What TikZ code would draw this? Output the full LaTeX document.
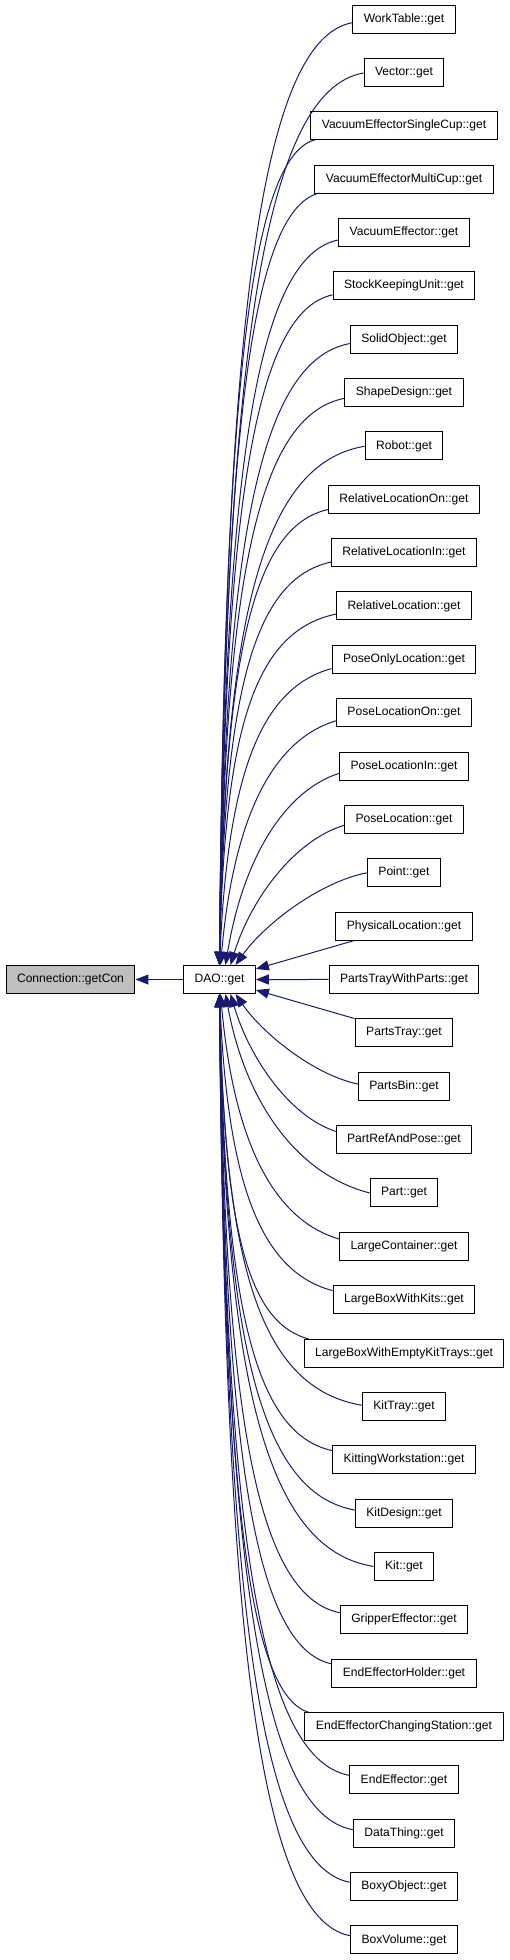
\documentclass[tikz,border=0pt]{standalone}
\usepackage{fontspec}
\setmainfont{Liberation Sans}
\usetikzlibrary{arrows.meta}
\definecolor{edgeblue}{RGB}{25,25,112}
\definecolor{curgray}{RGB}{191,191,191}
\begin{document}
\begin{tikzpicture}[x=1pt,y=-1pt,
  fn/.style={draw=black,line width=1pt,fill=white,minimum height=28pt,inner xsep=11pt,inner ysep=2pt,font=\fontsize{12.1}{14}\selectfont},
  edge/.style={draw=edgeblue,line width=1pt,-{Triangle[length=13pt,width=10pt]}}]
\useasboundingbox (0,0) rectangle (509,1960);
\node[fn,fill=curgray] (con) at (70.5,979.5) {Connection::getCon};
\node[fn] (dao) at (219.5,979.5) {DAO::get};
\foreach \t [count=\i from 0] in {WorkTable::get,Vector::get,VacuumEffectorSingleCup::get,VacuumEffectorMultiCup::get,VacuumEffector::get,StockKeepingUnit::get,SolidObject::get,ShapeDesign::get,Robot::get,RelativeLocationOn::get,RelativeLocationIn::get,RelativeLocation::get,PoseOnlyLocation::get,PoseLocationOn::get,PoseLocationIn::get,PoseLocation::get,Point::get,PhysicalLocation::get,PartsTrayWithParts::get,PartsTray::get,PartsBin::get,PartRefAndPose::get,Part::get,LargeContainer::get,LargeBoxWithKits::get,LargeBoxWithEmptyKitTrays::get,KitTray::get,KittingWorkstation::get,KitDesign::get,Kit::get,GripperEffector::get,EndEffectorHolder::get,EndEffectorChangingStation::get,EndEffector::get,DataThing::get,BoxyObject::get,BoxVolume::get}{
  \pgfmathsetmacro{\yc}{19+53.36*\i}
  \node[fn] (n\i) at (404,\yc) {\t};
}
% upper edges
\foreach \i in {0,...,16}{
  \path (n\i.west); \pgfgetlastxy{\Lx}{\Ly}
  \pgfmathsetmacro{\L}{\Lx}
  \pgfmathsetmacro{\yc}{0-(\Ly)}
  \pgfmathsetmacro{\raw}{(366-\L)*0.27}
  \pgfmathsetmacro{\off}{min(14,max(0,\raw))}
  \pgfmathsetmacro{\sxs}{(\raw>13.5?5:0)}
  \pgfmathsetmacro{\sx}{\L+\sxs}
  \pgfmathsetmacro{\sy}{\yc+\off}
  \pgfmathsetmacro{\e}{max(0,16-5*(16-\i))}
  \pgfmathsetmacro{\ex}{219.5+\e}
  \pgfmathsetmacro{\ey}{966}
  \pgfmathsetmacro{\dx}{\sx-\ex}
  \pgfmathsetmacro{\dy}{\ey-\sy}
  \pgfmathsetmacro{\w}{min(1,max(0,(\dy-90)/250))}
  \pgfmathsetmacro{\ax}{\sx-(0.36+0.34*\w)*\dx}
  \pgfmathsetmacro{\ay}{\sy+0.1*\dy*(1-\w)+17*\w}
  \pgfmathsetmacro{\bx}{\ex+0.22*(1-\w)*\dx+5*\w}
  \pgfmathsetmacro{\by}{\ey-(0.44+0.235*\w)*\dy}
  \draw[edge] ([xshift=\sxs pt,yshift=-\off pt]n\i.west) .. controls (\ax,\ay) and (\bx,\by) .. ([xshift=\e pt]dao.north);
}
% lower edges
\foreach \i in {20,...,36}{
  \path (n\i.west); \pgfgetlastxy{\Lx}{\Ly}
  \pgfmathsetmacro{\L}{\Lx}
  \pgfmathsetmacro{\yc}{0-(\Ly)}
  \pgfmathsetmacro{\raw}{(366-\L)*0.27}
  \pgfmathsetmacro{\off}{min(14,max(0,\raw))}
  \pgfmathsetmacro{\sxs}{(\raw>13.5?5:0)}
  \pgfmathsetmacro{\sx}{\L+\sxs}
  \pgfmathsetmacro{\sy}{\yc-\off}
  \pgfmathsetmacro{\e}{max(0,16-5*(\i-20))}
  \pgfmathsetmacro{\ex}{219.5+\e}
  \pgfmathsetmacro{\ey}{993}
  \pgfmathsetmacro{\dx}{\sx-\ex}
  \pgfmathsetmacro{\dy}{\sy-\ey}
  \pgfmathsetmacro{\w}{min(1,max(0,(\dy-90)/250))}
  \pgfmathsetmacro{\ax}{\sx-(0.36+0.34*\w)*\dx}
  \pgfmathsetmacro{\ay}{\sy-0.1*\dy*(1-\w)-17*\w}
  \pgfmathsetmacro{\bx}{\ex+0.22*(1-\w)*\dx+5*\w}
  \pgfmathsetmacro{\by}{\ey+(0.44+0.235*\w)*\dy}
  \draw[edge] ([xshift=\sxs pt,yshift=\off pt]n\i.west) .. controls (\ax,\ay) and (\bx,\by) .. ([xshift=\e pt]dao.south);
}
% middle edges
\draw[edge] (n17) -- ([yshift=10.5pt]dao.east);
\draw[edge] (n18.west) -- (dao.east);
\draw[edge] (n19) -- ([yshift=-10.5pt]dao.east);
\draw[edge] (dao.west) -- (con.east);
\end{tikzpicture}
\end{document}
